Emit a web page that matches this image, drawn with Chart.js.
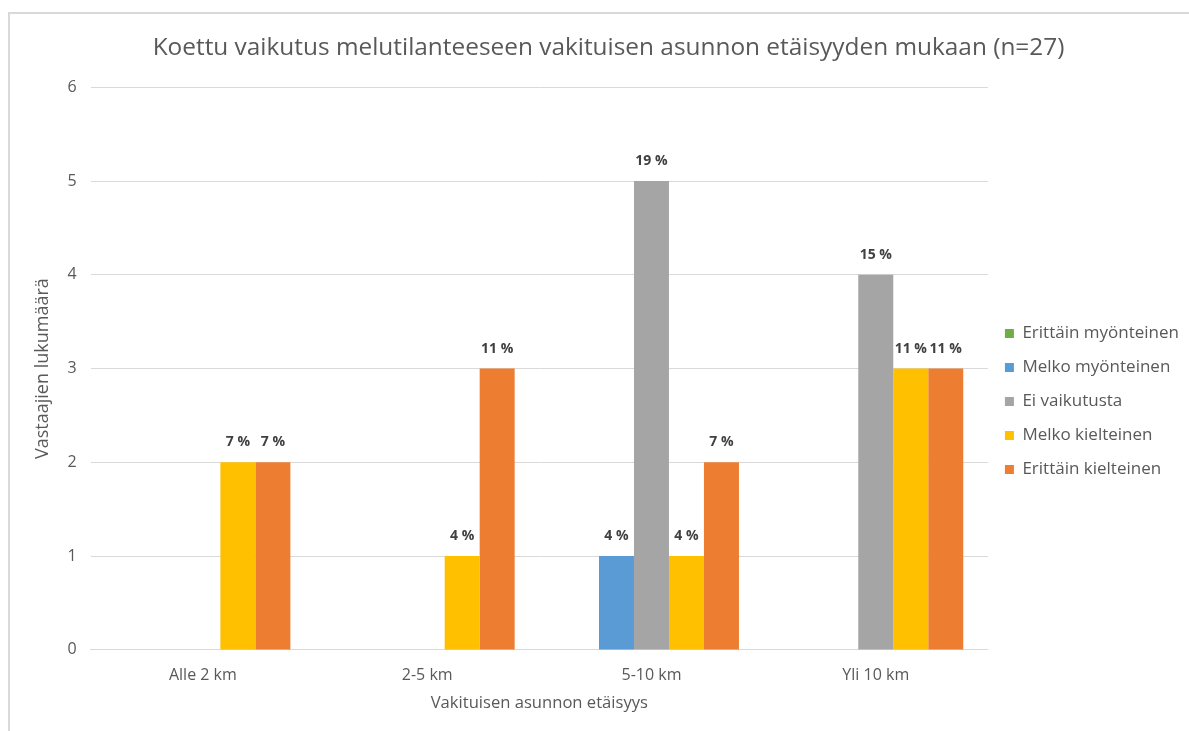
<!DOCTYPE html>
<html lang="fi">
<head>
    <meta charset="UTF-8">
    <title>Koettu vaikutus melutilanteeseen</title>
    <style>
        html, body { margin: 0; padding: 0; background: #fff; }
        .frame {
            position: absolute;
            left: 8px; top: 12px;
            width: 1181px; height: 719px;
            border-left: 2px solid #D9D9D9;
            border-top: 2px solid #D9D9D9;
            box-sizing: border-box;
        }
    </style>
</head>
<body>
<div class="frame"><canvas id="chart"></canvas></div>

<script src="https://cdn.jsdelivr.net/npm/chart.js"></script>
<script>
// Data
const categories = ['Alle 2 km', '2-5 km', '5-10 km', 'Yli 10 km'];
const seriesNames = ['Erittäin myönteinen', 'Melko myönteinen', 'Ei vaikutusta', 'Melko kielteinen', 'Erittäin kielteinen'];
const erittainMyonteinen = [0, 0, 0, 0];
const melkoMyonteinen = [0, 0, 1, 0];
const eiVaikutusta = [0, 0, 5, 4];
const melkoKielteinen = [2, 1, 1, 3];
const erittainKielteinen = [2, 3, 2, 3];
const respondents = 27;
const yTicks = [0, 1, 2, 3, 4, 5, 6];

const seriesColors = ['#70AD47', '#5B9BD5', '#A5A5A5', '#FFC000', '#ED7D31'];
const seriesValues = [erittainMyonteinen, melkoMyonteinen, eiVaikutusta, melkoKielteinen, erittainKielteinen];

const textColor = '#595959';
const fontFamily = '"Open Sans", sans-serif';

// Percentage labels on top of bars (skips zero values)
const percentLabels = {
    id: 'percentLabels',
    afterDatasetsDraw(chart) {
        const ctx = chart.ctx;
        ctx.save();
        ctx.font = 'bold 14px ' + fontFamily;
        ctx.fillStyle = '#404040';
        ctx.textAlign = 'center';
        ctx.textBaseline = 'middle';
        chart.data.datasets.forEach((ds, i) => {
            const meta = chart.getDatasetMeta(i);
            meta.data.forEach((bar, j) => {
                const v = ds.data[j];
                if (!v) return;
                const pct = Math.round(v / respondents * 100);
                ctx.fillText(pct + ' %', bar.x, bar.y - 20);
            });
        });
        ctx.restore();
    }
};

new Chart(document.getElementById('chart'), {
    type: 'bar',
    data: {
        labels: categories,
        datasets: seriesNames.map((name, i) => ({
            label: name,
            data: seriesValues[i],
            backgroundColor: seriesColors[i],
            categoryPercentage: 0.78,
            barPercentage: 1.0
        }))
    },
    options: {
        responsive: true,
        maintainAspectRatio: false,
        animation: false,
        layout: { padding: { left: 18, right: 0, top: 6, bottom: 14 } },
        plugins: {
            title: {
                display: true,
                text: 'Koettu vaikutus melutilanteeseen vakituisen asunnon etäisyyden mukaan (n=27)',
                color: textColor,
                font: { family: fontFamily, size: 24.4, weight: 'normal' },
                padding: { top: 13, bottom: 25 }
            },
            legend: {
                position: 'right',
                // blank title only pushes the entries down to match the reference
                title: { display: true, text: ' ', padding: 0, font: { size: 55 } },
                labels: {
                    color: textColor,
                    font: { family: fontFamily, size: 17 },
                    boxWidth: 9,
                    boxHeight: 9,
                    padding: 17
                }
            },
            tooltip: { enabled: false }
        },
        scales: {
            x: {
                grid: { display: false },
                border: { color: '#D9D9D9' },
                ticks: { color: textColor, font: { family: fontFamily, size: 16 }, padding: 8 },
                title: {
                    display: true,
                    text: 'Vakituisen asunnon etäisyys',
                    color: textColor,
                    font: { family: fontFamily, size: 16.6 },
                    padding: { top: 0 }
                }
            },
            y: {
                min: 0,
                max: 6,
                afterBuildTicks(axis) { axis.ticks = yTicks.map(v => ({ value: v })); },
                grid: { color: '#D9D9D9', drawTicks: false },
                border: { display: false },
                ticks: { color: textColor, font: { family: fontFamily, size: 16 }, padding: 14 },
                title: {
                    display: true,
                    text: 'Vastaajien lukumäärä',
                    color: textColor,
                    font: { family: fontFamily, size: 18 },
                    padding: { bottom: 0 }
                }
            }
        }
    },
    plugins: [percentLabels]
});
</script>
</body>
</html>
